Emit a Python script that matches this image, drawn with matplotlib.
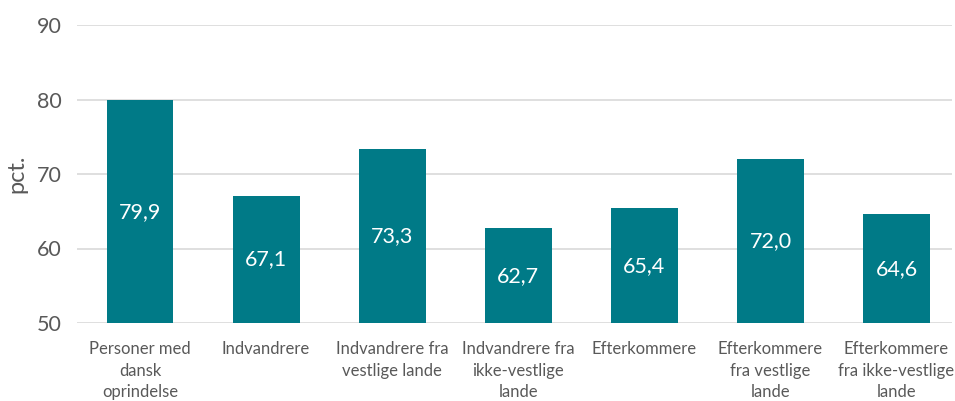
import matplotlib.pyplot as plt

categories = ["Personer med\ndansk\noprindelse", "Indvandrere", "Indvandrere fra\nvestlige lande",
              "Indvandrere fra\nikke-vestlige\nlande", "Efterkommere", "Efterkommere\nfra vestlige\nlande",
              "Efterkommere\nfra ikke-vestlige\nlande"]
values = [79.9, 67.1, 73.3, 62.7, 65.4, 72.0, 64.6]
yticks = [50, 60, 70, 80, 90]

plt.rcParams['font.family'] = ['Lato', 'DejaVu Sans']
grey = "#595959"

fig = plt.figure(figsize=(9.55, 4.01), dpi=100)
ax = fig.add_axes([77/955, 78/401, 875/955, 298/401])

x = range(len(values))
bars = ax.bar(x, [v - 50 for v in values], bottom=50, width=0.53, color="#007A87", zorder=3)
for xi, v in zip(x, values):
    ax.text(xi, (50 + v) / 2, f"{v:.1f}".replace(".", ","), ha="center", va="center",
            color="white", fontsize=15.5, zorder=4)

ax.set_ylim(50, 90)
ax.set_xlim(-0.5, 6.44)
ax.set_yticks(yticks)
ax.set_yticklabels([str(t) for t in yticks], fontsize=15.5, color=grey)
ax.set_xticks(list(x))
ax.set_xticklabels(categories, fontsize=12, color=grey, linespacing=1.42)
ax.tick_params(axis="both", length=0, pad=11)
ax.tick_params(axis="x", pad=13)
ax.grid(axis="y", color="#D9D9D9", linewidth=1.2, zorder=0)
for s in ax.spines.values():
    s.set_visible(False)
ax.set_ylabel("pct.", fontsize=17, color=grey, labelpad=7)

fig.savefig("out.png", dpi=100)
